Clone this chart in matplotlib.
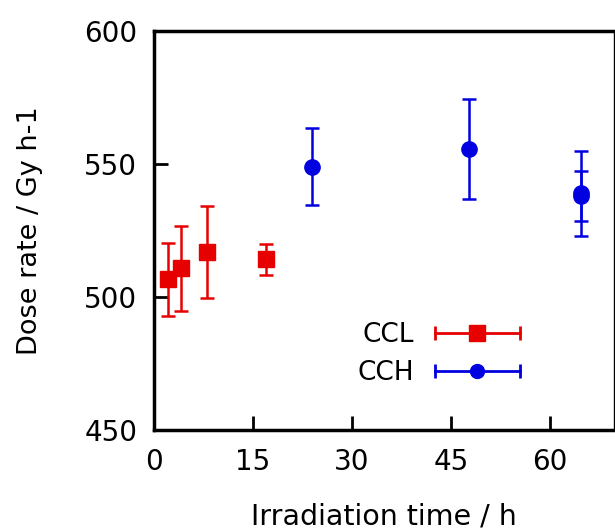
import matplotlib
matplotlib.use("Agg")
import matplotlib.pyplot as plt
from matplotlib.lines import Line2D
from matplotlib.legend_handler import HandlerLine2D

# CCL series
ccl_time = [2.1, 4.1, 8.1, 17.0]
ccl_dose = [506.7, 510.8, 517.0, 514.2]
ccl_err = [13.7, 16.0, 17.2, 5.8]

# CCH series
cch_time = [23.9, 47.8, 64.8, 64.8]
cch_dose = [549.0, 555.8, 539.0, 538.0]
cch_err = [14.4, 18.8, 16.0, 9.5]

x_ticks = [0, 15, 30, 45, 60]
y_ticks = [450, 500, 550, 600]

red = "#e60000"
blue = "#0000e0"

plt.rcParams["font.family"] = ["DejaVu Sans"]

fig = plt.figure(figsize=(6.15, 5.31), dpi=100)
ax = fig.add_axes([0.2504, 0.190, 0.7476, 0.7516])

err_kw = dict(linestyle="none", elinewidth=1.8, capsize=5, capthick=1.8, markersize=11)
ax.errorbar(ccl_time, ccl_dose, yerr=ccl_err, color=red, marker="s", **err_kw)
ax.errorbar(cch_time, cch_dose, yerr=cch_err, color=blue, marker="o", **err_kw)

ax.set_xlim(0, 69.7)
ax.set_ylim(450, 600)
ax.set_xticks(x_ticks)
ax.set_yticks(y_ticks)
ax.tick_params(direction="in", length=10, width=2, labelsize=20)
ax.tick_params(axis="x", pad=13)
ax.tick_params(axis="y", pad=12)
for side in ["left", "bottom", "top"]:
    ax.spines[side].set_linewidth(2.5)
ax.spines["right"].set_linewidth(1)

ax.set_xlabel("Irradiation time / h", fontsize=20.5, labelpad=19)
ax.set_ylabel("Dose rate / Gy h-1", fontsize=19.5, labelpad=30)

# gnuplot-like legend keys: horizontal bar with end caps and a marker in the middle
handles = []
hmap = {}
for col, mk in [(red, "s"), (blue, "o")]:
    bar = Line2D([], [], color=col, lw=2, marker="|", markersize=10, markeredgewidth=2)
    pt = Line2D([], [], color=col, lw=0, marker=mk, markersize=11 if mk == "s" else 10)
    hmap[bar] = HandlerLine2D(numpoints=2, marker_pad=0)
    handles.append((bar, pt))

ax.legend(handles, ["CCL", "CCH"], handler_map=hmap, markerfirst=False, frameon=False,
          fontsize=19, handlelength=3.2, handletextpad=0.8, labelspacing=0.45,
          loc="upper right", bbox_to_anchor=(0.795, 0.27), borderaxespad=0, borderpad=0)

fig.savefig("out.png", dpi=100)
